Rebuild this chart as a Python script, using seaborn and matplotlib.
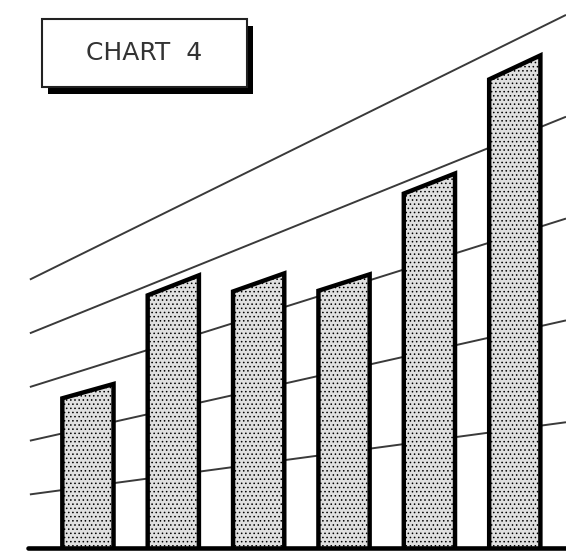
import numpy as np
import pandas as pd
import matplotlib
matplotlib.use("Agg")
import matplotlib.pyplot as plt
import seaborn as sns
from matplotlib.transforms import Transform
from matplotlib.patches import Rectangle

# ---- data (values read in the un-tilted reference frame) ----
periods = ["1", "2", "3", "4", "5", "6"]
values = [2.62, 3.85, 3.44, 3.07, 3.87, 4.72]
grid_levels = [1, 2, 3, 4, 5]
title = "CHART  4"

df = pd.DataFrame({"period": periods, "value": values})


class FanTransform(Transform):
    """Perspective-like fan: horizontal levels radiate from a vanishing point."""
    input_dims = 2
    output_dims = 2
    is_separable = False
    has_inverse = False

    def __init__(self, x_vanish, x_ref, y_vanish):
        super().__init__()
        self.xv = x_vanish
        self.xr = x_ref
        self.yv = y_vanish

    def transform_non_affine(self, vals):
        v = np.asarray(vals, float).reshape(-1, 2)
        x, y = v[:, 0], v[:, 1]
        f = (x - self.xv) / (self.xr - self.xv)
        return np.column_stack([x, self.yv + (y - self.yv) * f])


sns.set_style("white")
plt.rcParams["font.family"] = ["DejaVu Sans"]
plt.rcParams["hatch.linewidth"] = 0.6

fig = plt.figure(figsize=(5.66, 5.54), dpi=100)
ax = fig.add_axes([0, 6 / 554, 1, 548 / 554])

sns.barplot(data=df, x="period", y="value", ax=ax, width=0.6,
            color="#e0e0e0", saturation=1, edgecolor="black",
            linewidth=3.2, zorder=3)

ax.set_xlim(-1.03, 5.6)
ax.set_ylim(0, 10.15)

fan = FanTransform(-7.69, -0.644, -0.5)

for p, v in zip(ax.patches, values):
    p.set_y(-0.5)
    p.set_height(v + 0.5)
    p.set_transform(fan + ax.transData)
    p.set_hatch("....")
    p.set_joinstyle("miter")

for g in grid_levels:
    ax.plot([-0.68, 5.6], [g, g], transform=fan + ax.transData,
            color="#3a3a3a", lw=1.4, zorder=1, solid_capstyle="butt")

ax.axhline(0, xmin=28 / 566, xmax=1, color="black", lw=3.3,
           clip_on=False, zorder=5)
ax.set_axis_off()

# title box with drop shadow
fig.add_artist(Rectangle((48 / 566, (554 - 94) / 554), 205 / 566, 68 / 554,
                         transform=fig.transFigure, facecolor="black",
                         edgecolor="none"))
fig.add_artist(Rectangle((42 / 566, (554 - 87) / 554), 205 / 566, 68 / 554,
                         transform=fig.transFigure, facecolor="white",
                         edgecolor="#222222", lw=1.5))
fig.text(144 / 566, (554 - 53) / 554, title, ha="center", va="center",
         fontsize=18, color="#333333")

fig.savefig("out.png", dpi=100)
